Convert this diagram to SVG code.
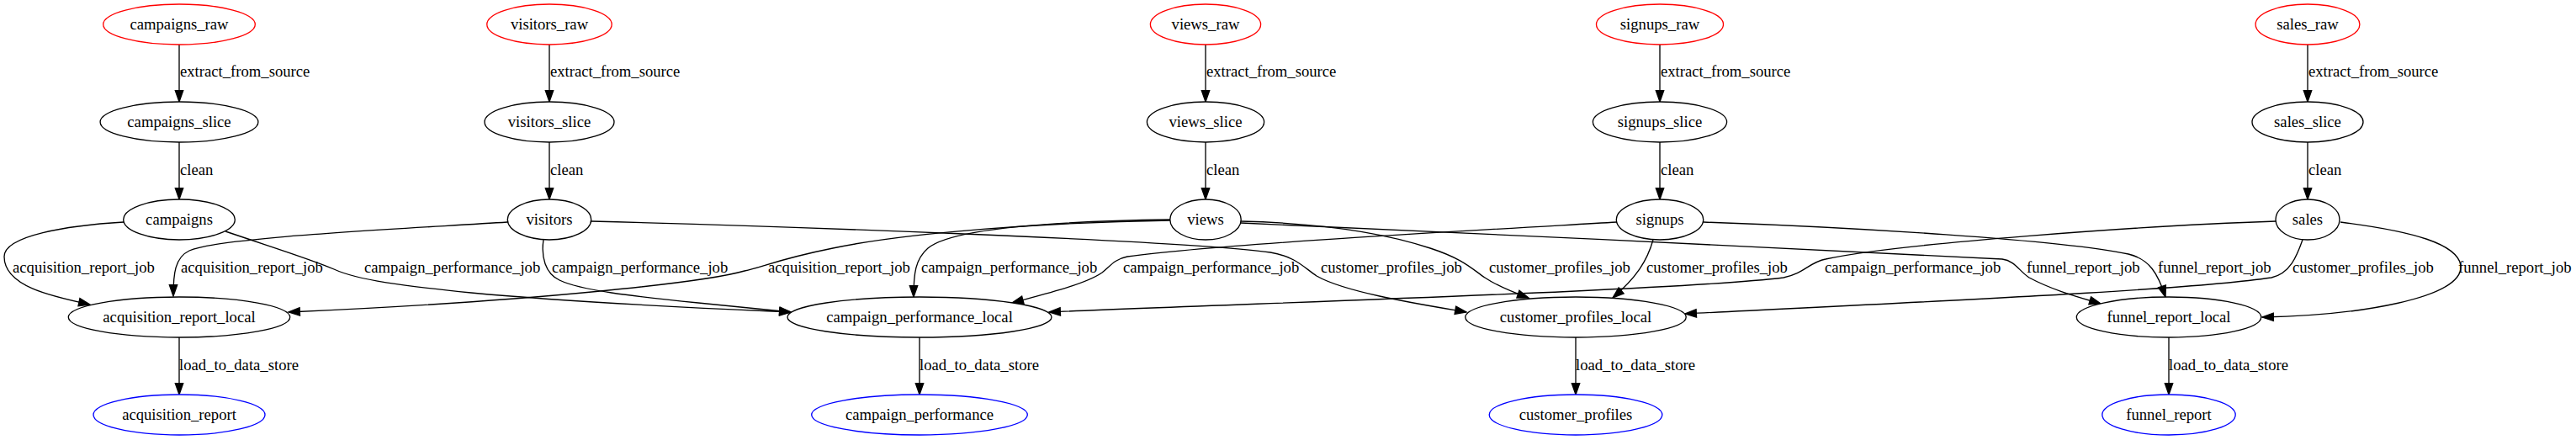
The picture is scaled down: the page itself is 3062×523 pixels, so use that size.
<svg xmlns="http://www.w3.org/2000/svg" width="3062" height="523" viewBox="0 0 3062 523">
<style>
.n ellipse{fill:#fff;stroke:#000;stroke-width:1.33}
.raw ellipse{stroke:#ff0000}
.rep ellipse{stroke:#0000ff}
text{font-family:"Liberation Serif","Times New Roman",serif;font-size:18.67px;fill:#000}
.n text{text-anchor:middle}
#edges path{fill:none;stroke:#000;stroke-width:1.33;marker-end:url(#arr)}
</style>
<defs>
<marker id="arr" viewBox="-1 -6 16 12" refX="13.33" refY="0" markerWidth="16" markerHeight="12" orient="auto" markerUnits="userSpaceOnUse" overflow="visible">
<path d="M0,-4.67 L13.33,0 L0,4.67 z" fill="#000" stroke="#000" stroke-width="1.33"/>
</marker>
</defs>
<rect width="3062" height="523" fill="#fff"/>
<g id="edges">
<!-- vertical pipeline edges -->
<path d="M213,53 L213,121"/>
<path d="M213,169 L213,237"/>
<path d="M213,401 L213,469"/>
<path d="M653,53 L653,121"/>
<path d="M653,169 L653,237"/>
<path d="M1433,53 L1433,121"/>
<path d="M1433,169 L1433,237"/>
<path d="M1093,401 L1093,469"/>
<path d="M1973,53 L1973,121"/>
<path d="M1973,169 L1973,237"/>
<path d="M1873,401 L1873,469"/>
<path d="M2743,53 L2743,121"/>
<path d="M2743,169 L2743,237"/>
<path d="M2578,401 L2578,469"/>
<!-- job edges -->
<path d="M147,264 C80,268 5,280 5,305 C5,340 60,352 107,362"/>
<path d="M603,264 C480,272 260,282 225,298 C208,306 206,325 206,352"/>
<path d="M268,275 C330,296 372,309 397,320 C425,333 480,340 560,348 C700,361 850,367 940,371"/>
<path d="M646,285 C643,305 648,325 665,333 C690,345 750,352 830,360 C880,365 910,368 940,371"/>
<path d="M1391,262 C1250,264 1080,276 990,295 C925,308 905,318 885,322 C840,335 640,358 343,371"/>
<path d="M1391,261 C1250,263 1130,272 1103,295 C1088,308 1086,325 1086,353"/>
<path d="M1922,264 C1750,274 1450,290 1340,305 C1325,308 1320,316 1310,324 C1290,338 1240,350 1203,360"/>
<path d="M703,263 C900,268 1400,285 1510,300 C1540,305 1550,318 1565,328 C1600,348 1690,362 1743,371"/>
<path d="M1475,263 C1560,265 1640,275 1700,295 C1740,308 1750,320 1765,330 C1780,340 1800,348 1817,354"/>
<path d="M1475,265 C1700,275 2200,298 2380,308 C2395,310 2400,322 2412,330 C2440,345 2470,353 2497,361"/>
<path d="M1965,285 C1958,310 1945,330 1917,354"/>
<path d="M2025,264 C2200,270 2450,285 2530,302 C2555,308 2565,325 2574,353"/>
<path d="M2705,263 C2550,268 2250,290 2170,308 C2150,312 2145,325 2120,330 C2000,345 1500,360 1247,371"/>
<path d="M2737,285 C2730,305 2722,325 2700,330 C2600,345 2300,358 2003,373"/>
<path d="M2782,264 C2870,275 2920,290 2925,315 C2930,355 2800,375 2689,377"/>
</g>
<g id="edge-labels">
<text x="214" y="91">extract_from_source</text>
<text x="214" y="208">clean</text>
<text x="213" y="440">load_to_data_store</text>
<text x="654" y="91">extract_from_source</text>
<text x="654" y="208">clean</text>
<text x="1434" y="91">extract_from_source</text>
<text x="1434" y="208">clean</text>
<text x="1093" y="440">load_to_data_store</text>
<text x="1974" y="91">extract_from_source</text>
<text x="1974" y="208">clean</text>
<text x="1873" y="440">load_to_data_store</text>
<text x="2744" y="91">extract_from_source</text>
<text x="2744" y="208">clean</text>
<text x="2578" y="440">load_to_data_store</text>
<text x="15" y="324">acquisition_report_job</text>
<text x="215" y="324">acquisition_report_job</text>
<text x="433" y="324">campaign_performance_job</text>
<text x="656" y="324">campaign_performance_job</text>
<text x="913" y="324">acquisition_report_job</text>
<text x="1095" y="324">campaign_performance_job</text>
<text x="1335" y="324">campaign_performance_job</text>
<text x="1570" y="324">customer_profiles_job</text>
<text x="1770" y="324">customer_profiles_job</text>
<text x="1957" y="324">customer_profiles_job</text>
<text x="2169" y="324">campaign_performance_job</text>
<text x="2409" y="324">funnel_report_job</text>
<text x="2565" y="324">funnel_report_job</text>
<text x="2725" y="324">customer_profiles_job</text>
<text x="2922" y="324">funnel_report_job</text>
</g>
<g id="campaigns_raw" class="n raw"><ellipse cx="213" cy="29" rx="90.3" ry="24"/><text x="213" y="34.6">campaigns_raw</text></g>
<g id="campaigns_slice" class="n"><ellipse cx="213" cy="145" rx="93.9" ry="24"/><text x="213" y="150.6">campaigns_slice</text></g>
<g id="campaigns" class="n"><ellipse cx="213" cy="261" rx="66.3" ry="24"/><text x="213" y="266.6">campaigns</text></g>
<g id="acquisition_report_local" class="n"><ellipse cx="213" cy="377" rx="131.7" ry="24"/><text x="213" y="382.6">acquisition_report_local</text></g>
<g id="acquisition_report" class="n rep"><ellipse cx="213" cy="493" rx="102" ry="24"/><text x="213" y="498.6">acquisition_report</text></g>
<g id="visitors_raw" class="n raw"><ellipse cx="653" cy="29" rx="74.2" ry="24"/><text x="653" y="34.6">visitors_raw</text></g>
<g id="visitors_slice" class="n"><ellipse cx="653" cy="145" rx="77" ry="24"/><text x="653" y="150.6">visitors_slice</text></g>
<g id="visitors" class="n"><ellipse cx="653" cy="261" rx="49.7" ry="24"/><text x="653" y="266.6">visitors</text></g>
<g id="campaign_performance_local" class="n"><ellipse cx="1093" cy="377" rx="157" ry="24"/><text x="1093" y="382.6">campaign_performance_local</text></g>
<g id="campaign_performance" class="n rep"><ellipse cx="1093" cy="493" rx="128.3" ry="24"/><text x="1093" y="498.6">campaign_performance</text></g>
<g id="views_raw" class="n raw"><ellipse cx="1433" cy="29" rx="65.6" ry="24"/><text x="1433" y="34.6">views_raw</text></g>
<g id="views_slice" class="n"><ellipse cx="1433" cy="145" rx="69.6" ry="24"/><text x="1433" y="150.6">views_slice</text></g>
<g id="views" class="n"><ellipse cx="1433" cy="261" rx="42.2" ry="24"/><text x="1433" y="266.6">views</text></g>
<g id="signups_raw" class="n raw"><ellipse cx="1973" cy="29" rx="75.5" ry="24"/><text x="1973" y="34.6">signups_raw</text></g>
<g id="signups_slice" class="n"><ellipse cx="1973" cy="145" rx="79.6" ry="24"/><text x="1973" y="150.6">signups_slice</text></g>
<g id="signups" class="n"><ellipse cx="1973" cy="261" rx="51.7" ry="24"/><text x="1973" y="266.6">signups</text></g>
<g id="customer_profiles_local" class="n"><ellipse cx="1873" cy="377" rx="131.2" ry="24"/><text x="1873" y="382.6">customer_profiles_local</text></g>
<g id="customer_profiles" class="n rep"><ellipse cx="1873" cy="493" rx="102.8" ry="24"/><text x="1873" y="498.6">customer_profiles</text></g>
<g id="sales_raw" class="n raw"><ellipse cx="2743" cy="29" rx="61.9" ry="24"/><text x="2743" y="34.6">sales_raw</text></g>
<g id="sales_slice" class="n"><ellipse cx="2743" cy="145" rx="66" ry="24"/><text x="2743" y="150.6">sales_slice</text></g>
<g id="sales" class="n"><ellipse cx="2743" cy="261" rx="38" ry="24"/><text x="2743" y="266.6">sales</text></g>
<g id="funnel_report_local" class="n"><ellipse cx="2578" cy="377" rx="109.7" ry="24"/><text x="2578" y="382.6">funnel_report_local</text></g>
<g id="funnel_report" class="n rep"><ellipse cx="2578" cy="493" rx="79.2" ry="24"/><text x="2578" y="498.6">funnel_report</text></g>
</svg>
